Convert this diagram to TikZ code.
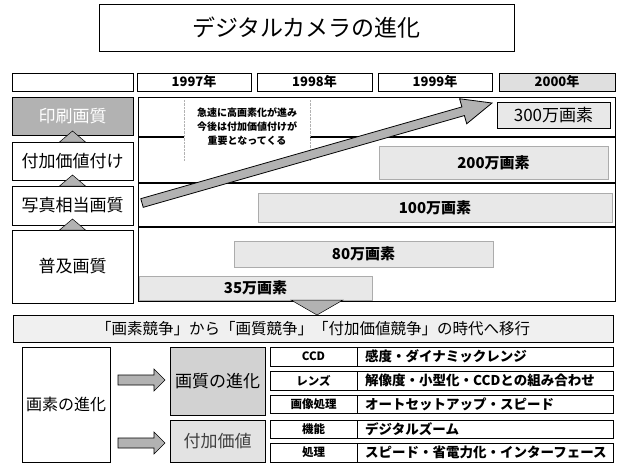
\documentclass[tikz,border=0pt]{standalone}
\usepackage{fontspec}
\setmainfont{Noto Sans CJK JP}
\usetikzlibrary{calc}
\begin{document}
\begin{tikzpicture}[x=1pt,y=-1pt,
  rect/.style n args={4}{minimum width={(#3)-(#1)}, minimum height={(#4)-(#2)}, at={({((#1)+(#3))/2},{((#2)+(#4))/2})}, anchor=center},
  bx/.style={draw=black, line width=0.9pt, inner sep=0pt, outer sep=0pt},
  mbox/.style={fill=gray!18, draw=gray!65, line width=0.6pt, inner sep=0pt, font=\bfseries\fontsize{15}{16}\selectfont},
  yr/.style={font=\bfseries\fontsize{13}{13}\selectfont},
  lft/.style={font=\fontsize{17}{18}\selectfont},
  tl/.style={font=\bfseries\fontsize{11.5}{12}\selectfont},
  tv/.style={font=\bfseries\fontsize{13.5}{14}\selectfont, anchor=west, inner sep=0pt},
  tri/.style={fill=gray!60, draw=black, line width=0.5pt},
  blkarr/.pic={\filldraw[fill=gray!60, draw=black, line width=0.6pt] (0,-5) -- (36,-5) -- (36,-11) -- (47,0) -- (36,11) -- (36,5) -- (0,5) -- cycle;}
]
\useasboundingbox (0,0) rectangle (617,464);

% title
\node[bx, rect={99}{4}{514}{51}, font=\fontsize{23}{26}\selectfont] (title) {デジタルカメラの進化};

% header row
\node[bx, rect={12}{73}{133}{91}] (hblank) {};
\node[bx, yr, rect={137}{73}{251}{91}] (y97) {1997年};
\node[bx, yr, rect={257}{73}{372}{91}] (y98) {1998年};
\node[bx, yr, rect={378}{73}{492}{91}] (y99) {1999年};
\node[bx, yr, fill=gray!25, rect={499}{73}{615}{91}] (y00) {2000年};

% left column
\node[bx, lft, fill=gray!60, text=white, rect={12}{97}{133}{135}] (insatsu) {印刷画質};
\node[bx, lft, rect={12}{142}{133}{180}] (fuka) {付加価値付け};
\node[bx, lft, rect={12}{186}{133}{225}] (shashin) {写真相当画質};
\node[bx, lft, rect={12}{230}{133}{303}] (fukyu) {普及画質};

\foreach \b in {fuka,shashin,fukyu}{
  \path[tri] ($(\b.north)+(-13,0)$) -- ($(\b.north)+(13,0)$) -- ($(\b.north)+(0,-11)$) -- cycle;
}

% chart area
\node[bx, rect={138}{97}{615}{301}] (chart) {};
\draw[line width=1.2pt] (chart.west |- 0,137) coordinate (r1a) -- (chart.east |- 0,137) coordinate (r1b);
\draw[line width=1.2pt] (chart.west |- 0,183) coordinate (r2a) -- (chart.east |- 0,183) coordinate (r2b);
\draw[line width=1.2pt] (chart.west |- 0,227) coordinate (r3a) -- (chart.east |- 0,227) coordinate (r3b);

\node[mbox, draw=black, line width=0.9pt, font=\fontsize{17}{18}\selectfont, rect={497}{102}{610}{128}] (m300) {300万画素};
\node[mbox, rect={379}{146}{608}{179}] (m200) {200万画素};
\node[mbox, rect={258}{193}{612}{222}] (m100) {100万画素};
\node[mbox, rect={234}{241}{493}{267}] (m80) {80万画素};
\node[mbox, rect={139}{276}{372}{300}] (m35) {35万画素};

% note text
\node[fill=white, inner sep=0pt, rect={184}{100}{310}{160}] (notebg) {};
\draw[gray!60, densely dotted] (notebg.north west) -- (notebg.south west);
\draw[gray!60, densely dotted] (notebg.north east) -- (notebg.south east);
\node[align=center, font=\bfseries\fontsize{10}{14}\selectfont, inner sep=0pt] (note) at (247,127) {急速に高画素化が進み\\今後は付加価値付けが\\重要となってくる};

% big arrow
\coordinate (aS) at (142,203);
\coordinate (aT) at (492,103);
\coordinate (aH) at ($(aT)!30pt!(aS)$);
\filldraw[fill=gray!60, draw=black, line width=0.8pt]
  ($(aS)!4.5pt!90:(aT)$) -- ($(aH)!4.5pt!-90:(aS)$) -- ($(aH)!13pt!-90:(aS)$) -- (aT)
  -- ($(aH)!13pt!90:(aS)$) -- ($(aH)!4.5pt!90:(aS)$) -- ($(aS)!4.5pt!-90:(aT)$) -- cycle;

% banner
\node[bx, fill=gray!12, rect={13}{315}{613}{342}, font=\fontsize{15.5}{16}\selectfont] (banner) {「画素競争」から「画質競争」「付加価値競争」の時代へ移行};
\coordinate (dn) at (317,300);
\path[tri] ($(dn)+(-26,0)$) -- ($(dn)+(26,0)$) -- (dn |- banner.north) -- cycle;

% bottom section
\node[bx, font=\fontsize{16}{17}\selectfont, rect={22}{347}{110}{462}] (gaso) {画素の進化};
\node[bx, lft, fill=gray!35, rect={170}{347}{265}{415}] (gashitsu) {画質の進化};
\node[bx, lft, fill=gray!22, text=black!75, rect={170}{420}{265}{462}] (fukav) {付加価値};
\pic at (118,380) {blkarr};
\pic at (118,443) {blkarr};

% table
\node[bx, tl, rect={270}{347}{357}{366}] (l1) {CCD};
\node[bx, rect={357}{347}{613}{366}] (v1) {};
\node[tv] (t1) at ($(v1.west)+(8,0)$) {感度・ダイナミックレンジ};
\node[bx, tl, rect={270}{371}{357}{390}] (l2) {レンズ};
\node[bx, rect={357}{371}{613}{390}] (v2) {};
\node[tv] (t2) at ($(v2.west)+(8,0)$) {解像度・小型化・CCDとの組み合わせ};
\node[bx, tl, rect={270}{395}{357}{413}] (l3) {画像処理};
\node[bx, rect={357}{395}{613}{413}] (v3) {};
\node[tv] (t3) at ($(v3.west)+(8,0)$) {オートセットアップ・スピード};
\node[bx, tl, rect={270}{420}{357}{438}] (l4) {機能};
\node[bx, rect={357}{420}{613}{438}] (v4) {};
\node[tv] (t4) at ($(v4.west)+(8,0)$) {デジタルズーム};
\node[bx, tl, rect={270}{443}{357}{462}] (l5) {処理};
\node[bx, rect={357}{443}{613}{462}] (v5) {};
\node[tv] (t5) at ($(v5.west)+(8,0)$) {スピード・省電力化・インターフェース};
\end{tikzpicture}
\end{document}
